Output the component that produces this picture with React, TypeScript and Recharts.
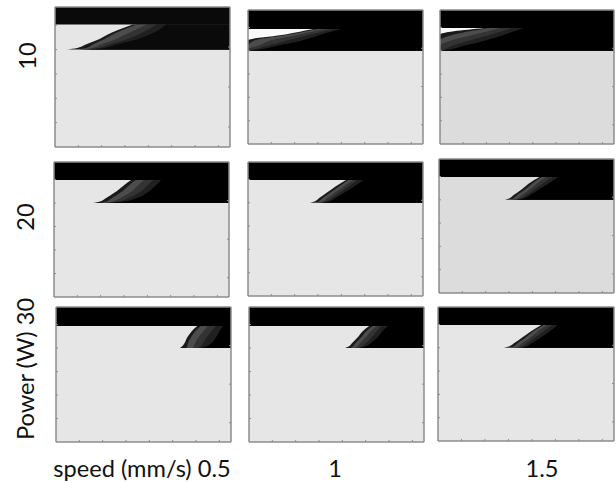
import React from "react";
import { ComposedChart, Area, XAxis, YAxis } from "recharts";

// Shared contour heights (power axis units) at which each contour's speed position was read;
// the last column of each contour table is read at the panel's band edge.
const contourLevels = [4, 4.07, 4.2, 4.45, 4.7];
const xMax = 7.5;
const yMax = 5.75;
const xTicks = [1, 2, 3, 4, 5, 6, 7];
const yTicks = [1, 2, 3, 4, 5];

const speedLabels = ["speed (mm/s) 0.5", "1", "1.5"];
const powerLabels = ["10", "20", "Power (W) 30"];

// Height of the lower edge of the saturated top band, panel by panel
const bandLevels = [5.03, 4.93, 4.98, 4.98, 4.98, 4.98, 4.94, 4.94, 4.98];
// Top of the lighter patch in panels that have one
const glowEnds = [null, 3.2, 2.4, null, null, null, null, null, null];

const contours11 = [
  [0.5, 0.95, 1.29, 1.93, 2.44, 3.34],
  [1.0, 1.35, 1.6, 2.15, 2.65, 3.5],
  [1.15, 1.6, 1.95, 2.65, 3.2, 3.95],
  [1.3, 1.85, 2.3, 3.15, 3.75, 4.35],
  [1.45, 2.1, 2.6, 3.6, 4.25, 4.75],
];
const contours12 = [
  [0, 0, 0, 0, 1.6, 2.8],
  [0, 0, 0, 0.3, 1.8, 3.0],
  [0, 0, 0.4, 1.0, 2.2, 3.3],
  [0, 0.3, 0.8, 1.7, 2.7, 3.65],
  [0, 0.6, 1.2, 2.35, 3.15, 4.0],
];
const contours13 = [
  [0, 0, 0, 0, 0, 1.9],
  [0, 0, 0, 0, 0.6, 2.1],
  [0, 0, 0, 0.5, 1.5, 2.6],
  [0, 0.2, 0.5, 1.3, 2.2, 3.1],
  [0, 0.5, 1.0, 2.0, 2.8, 3.6],
];
const contours21 = [
  [1.67, 1.97, 2.2, 2.6, 2.92, 3.3],
  [2.0, 2.25, 2.45, 2.85, 3.15, 3.5],
  [2.15, 2.5, 2.8, 3.25, 3.55, 3.85],
  [2.25, 2.75, 3.15, 3.65, 3.95, 4.25],
  [2.35, 3.0, 3.5, 4.0, 4.3, 4.6],
];
const contours22 = [
  [2.66, 2.88, 3.05, 3.4, 3.75, 4.2],
  [2.9, 3.05, 3.2, 3.55, 3.9, 4.3],
  [3.0, 3.22, 3.4, 3.75, 4.1, 4.5],
  [3.1, 3.38, 3.6, 3.95, 4.3, 4.7],
  [3.15, 3.5, 3.75, 4.15, 4.55, 4.95],
];
const contours23 = [
  [2.83, 3.03, 3.2, 3.55, 3.85, 4.3],
  [3.05, 3.2, 3.35, 3.7, 4.0, 4.4],
  [3.15, 3.37, 3.55, 3.9, 4.2, 4.6],
  [3.25, 3.53, 3.75, 4.1, 4.45, 4.85],
  [3.3, 3.65, 3.9, 4.3, 4.7, 5.1],
];
const contours31 = [
  [5.31, 5.4, 5.5, 5.62, 5.8, 6.05],
  [5.6, 5.62, 5.65, 5.78, 5.95, 6.2],
  [5.85, 5.9, 5.95, 6.1, 6.3, 6.5],
  [6.05, 6.2, 6.3, 6.45, 6.65, 6.85],
  [6.25, 6.45, 6.65, 6.85, 7.0, 7.15],
];
const contours32 = [
  [4.11, 4.27, 4.4, 4.65, 4.85, 5.15],
  [4.35, 4.45, 4.55, 4.8, 5.0, 5.3],
  [4.5, 4.63, 4.75, 5.0, 5.2, 5.5],
  [4.65, 4.83, 5.0, 5.25, 5.45, 5.7],
  [4.75, 5.0, 5.2, 5.5, 5.7, 5.95],
];
const contours33 = [
  [2.81, 3.05, 3.25, 3.6, 3.95, 4.4],
  [3.1, 3.25, 3.4, 3.75, 4.05, 4.5],
  [3.25, 3.43, 3.6, 3.95, 4.25, 4.65],
  [3.4, 3.62, 3.8, 4.15, 4.5, 4.85],
  [3.55, 3.8, 4.0, 4.4, 4.75, 5.1],
];
const panelContours = [
  contours11, contours12, contours13,
  contours21, contours22, contours23,
  contours31, contours32, contours33,
];

const panelBoxes = [
  { l: 55, t: 7, w: 175, h: 140, bg: "#e6e6e6", ink: "#0a0a0a" },
  { l: 248, t: 10, w: 175, h: 134, bg: "#e6e6e6", ink: "#000000" },
  { l: 440, t: 10, w: 174, h: 134, bg: "#dcdcdc", ink: "#000000" },
  { l: 54, t: 162, w: 175, h: 135, bg: "#e6e6e6", ink: "#000000" },
  { l: 248, t: 162, w: 175, h: 134, bg: "#e6e6e6", ink: "#000000" },
  { l: 439, t: 159, w: 175, h: 134, bg: "#dcdcdc", ink: "#000000" },
  { l: 56, t: 307, w: 175, h: 135, bg: "#e6e6e6", ink: "#000000" },
  { l: 249, t: 307, w: 175, h: 135, bg: "#e6e6e6", ink: "#000000" },
  { l: 438, t: 307, w: 176, h: 134, bg: "#e6e6e6", ink: "#000000" },
];

const contourFills = ["#1a1a1a", "#4c4c4c", "#333333", "#202020", "#101010"];
const frameColor = "#8c8c8c";
const pad = 2;

function buildRows(i: number) {
  const band = bandLevels[i];
  const glow = glowEnds[i];
  const levels = [...contourLevels, band];
  const all = [0, ...levels, yMax];
  return all.map((y) => {
    const row: Record<string, unknown> = { y, bg: [0, xMax] };
    row.band = y >= band ? [0, xMax] : null;
    const k = levels.indexOf(y);
    row.glow = glow !== null && k >= 3 ? [0, glow] : null;
    panelContours[i].forEach((c, n) => {
      row[`c${n}`] = k >= 0 ? [c[k], xMax] : null;
    });
    return row;
  });
}

const NoLabel = () => <g />;

function Panel({ i }: { i: number }) {
  const b = panelBoxes[i];
  const rows = buildRows(i);
  const axisProps = {
    type: "number" as const,
    mirror: true,
    tick: NoLabel,
    tickSize: 2,
    stroke: frameColor,
    axisLine: { stroke: frameColor, strokeWidth: 1.5 },
    tickLine: { stroke: frameColor, strokeWidth: 1 },
  };
  const areaProps = {
    isAnimationActive: false,
    dot: false,
    activeDot: false,
    stroke: "none",
  };
  return (
    <div style={{ position: "absolute", left: b.l - pad, top: b.t - pad, filter: "blur(0.5px)" }}>
      <ComposedChart
        layout="vertical"
        width={b.w + pad * 2}
        height={b.h + pad * 2}
        data={rows}
        margin={{ top: pad, right: pad, bottom: pad, left: pad }}
      >
        <XAxis {...axisProps} xAxisId={0} orientation="bottom" height={12} domain={[0, xMax]} ticks={xTicks} />
        <XAxis {...axisProps} xAxisId={1} orientation="top" height={12} domain={[0, xMax]} ticks={xTicks} />
        <YAxis {...axisProps} yAxisId={0} orientation="left" width={12} dataKey="y" reversed domain={[0, yMax]} ticks={yTicks} />
        <YAxis {...axisProps} yAxisId={1} orientation="right" width={12} reversed domain={[0, yMax]} ticks={yTicks} />
        <Area {...areaProps} dataKey="bg" fill={b.bg} fillOpacity={1} type="linear" />
        <Area {...areaProps} dataKey="glow" fill="#fafafa" fillOpacity={1} type="linear" />
        {[0, 1, 2, 3].map((n) => (
          <Area {...areaProps} key={n} dataKey={`c${n}`} fill={contourFills[n]} fillOpacity={1} type="monotone" />
        ))}
        <Area {...areaProps} dataKey="c4" fill={b.ink} fillOpacity={1} type="monotone" />
        <Area {...areaProps} dataKey="band" fill={b.ink} fillOpacity={1} type="linear" />
      </ComposedChart>
    </div>
  );
}

const labelStyle: React.CSSProperties = {
  position: "absolute",
  fontFamily: "Lato, sans-serif",
  fontSize: 23.6,
  color: "#111",
  whiteSpace: "nowrap",
  lineHeight: "28px",
};

const speedCenters = [142, 335, 542];
const powerCenters = [56, 217, 369];
const powerX = [27, 25, 25];

export default function App() {
  return (
    <div style={{ position: "absolute", left: 0, top: 0, width: 616, height: 483, background: "#fff", overflow: "hidden" }}>
      {panelBoxes.map((_, i) => (
        <Panel key={i} i={i} />
      ))}
      {speedLabels.map((s, i) => (
        <div key={s} style={{ ...labelStyle, left: speedCenters[i], top: 468, transform: "translate(-50%, -50%)" }}>
          {s}
        </div>
      ))}
      {powerLabels.map((s, i) => (
        <div
          key={s}
          style={{ ...labelStyle, left: powerX[i], top: powerCenters[i], transform: "translate(-50%, -50%) rotate(-90deg)" }}
        >
          {s}
        </div>
      ))}
    </div>
  );
}
